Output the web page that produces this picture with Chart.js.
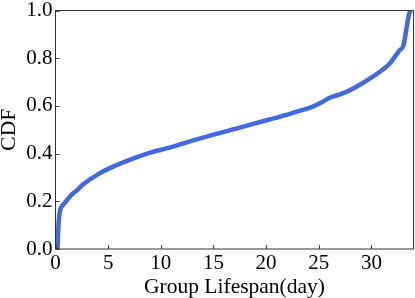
<!DOCTYPE html>
<html>
<head>
<meta charset="utf-8">
<script src="https://cdn.jsdelivr.net/npm/chart.js@4.4.1/dist/chart.umd.min.js"></script>
<style>
  html, body { margin: 0; padding: 0; background: #fff; }
  #wrap { width: 415px; height: 298px; }
</style>
</head>
<body>
<div id="wrap"><canvas id="cdfChart"></canvas></div>
<script>
// ===== DATA =====
const lifespanDays = [0.2, 0.25, 0.33, 0.45, 0.7, 1.0, 1.5, 2.0, 2.6, 4.18, 5.76, 7.34, 8.93, 10.83, 11.78,
  13.99, 17.16, 20.3, 21.27, 23.17, 24.43, 25.2, 26.0, 27.6, 29.18, 30.77, 31.72, 32.67, 33.05, 33.3, 33.55, 33.68, 33.8];
const cdfValues = [0.0, 0.07, 0.13, 0.165, 0.184, 0.2, 0.226, 0.245, 0.27, 0.317, 0.351, 0.379, 0.403, 0.425, 0.438,
  0.467, 0.505, 0.543, 0.554, 0.579, 0.597, 0.613, 0.633, 0.658, 0.696, 0.742, 0.777, 0.833, 0.854, 0.916, 0.979, 0.996, 1.0];
const xTicks = [0, 5, 10, 15, 20, 25, 30];
const yTicks = [0.0, 0.2, 0.4, 0.6, 0.8, 1.0];

const points = lifespanDays.map((d, i) => ({ x: d, y: cdfValues[i] }));
const serif = '"Liberation Serif", "DejaVu Serif", serif';

// ===== FRAME + INWARD TICKS =====
const framePlugin = {
  id: 'frame',
  afterDraw(chart) {
    const ctx = chart.ctx;
    const a = chart.chartArea;
    const xs = chart.scales.x, ys = chart.scales.y;
    ctx.save();
    ctx.strokeStyle = '#444';
    ctx.lineWidth = 1;
    xTicks.forEach(t => {
      const px = Math.round(xs.getPixelForValue(t)) + 0.5;
      ctx.beginPath(); ctx.moveTo(px, a.bottom); ctx.lineTo(px, a.bottom - 4); ctx.stroke();
    });
    yTicks.forEach(t => {
      const py = Math.round(ys.getPixelForValue(t)) + 0.5;
      ctx.beginPath(); ctx.moveTo(a.left, py); ctx.lineTo(a.left + 4, py); ctx.stroke();
    });
    ctx.strokeStyle = '#333';
    ctx.strokeRect(a.left, a.top, a.right - a.left, a.bottom - a.top);
    ctx.restore();
  }
};

new Chart(document.getElementById('cdfChart'), {
  type: 'line',
  data: {
    datasets: [{
      data: points,
      borderColor: 'rgb(65,105,225)',
      borderWidth: 4.5,
      pointRadius: 0,
      fill: false,
      cubicInterpolationMode: 'monotone'
    }]
  },
  options: {
    responsive: true,
    maintainAspectRatio: false,
    animation: false,
    layout: { padding: { top: 10.5, right: 1.5, left: 0, bottom: 0 } },
    plugins: { legend: { display: false }, tooltip: { enabled: false } },
    scales: {
      x: {
        type: 'linear',
        min: 0, max: 34,
        afterFit: s => { s.height = 49; s.paddingLeft = 0; s.paddingRight = 0; },
        afterBuildTicks: s => { s.ticks = xTicks.map(v => ({ value: v })); },
        grid: { display: false, drawTicks: false },
        border: { display: false },
        ticks: { color: '#000', font: { family: serif, size: 21 }, padding: 2, maxRotation: 0 },
        title: { display: true, text: 'Group Lifespan(day)', color: '#000',
          font: { family: serif, size: 21.5, lineHeight: 1.0 }, padding: { top: 0, bottom: 0 } }
      },
      y: {
        min: 0, max: 1,
        afterFit: s => { s.width = 55.5; s.paddingTop = 0; s.paddingBottom = 0; },
        afterBuildTicks: s => { s.ticks = yTicks.map(v => ({ value: v })); },
        grid: { display: false, drawTicks: false },
        border: { display: false },
        ticks: { color: '#000', font: { family: serif, size: 21 }, padding: 3,
          callback: v => v.toFixed(1) },
        title: { display: true, text: 'CDF', color: '#000',
          font: { family: serif, size: 21.5, lineHeight: 1.0 }, padding: { top: -1.5, bottom: 0 } }
      }
    }
  },
  plugins: [framePlugin]
});
</script>
</body>
</html>
